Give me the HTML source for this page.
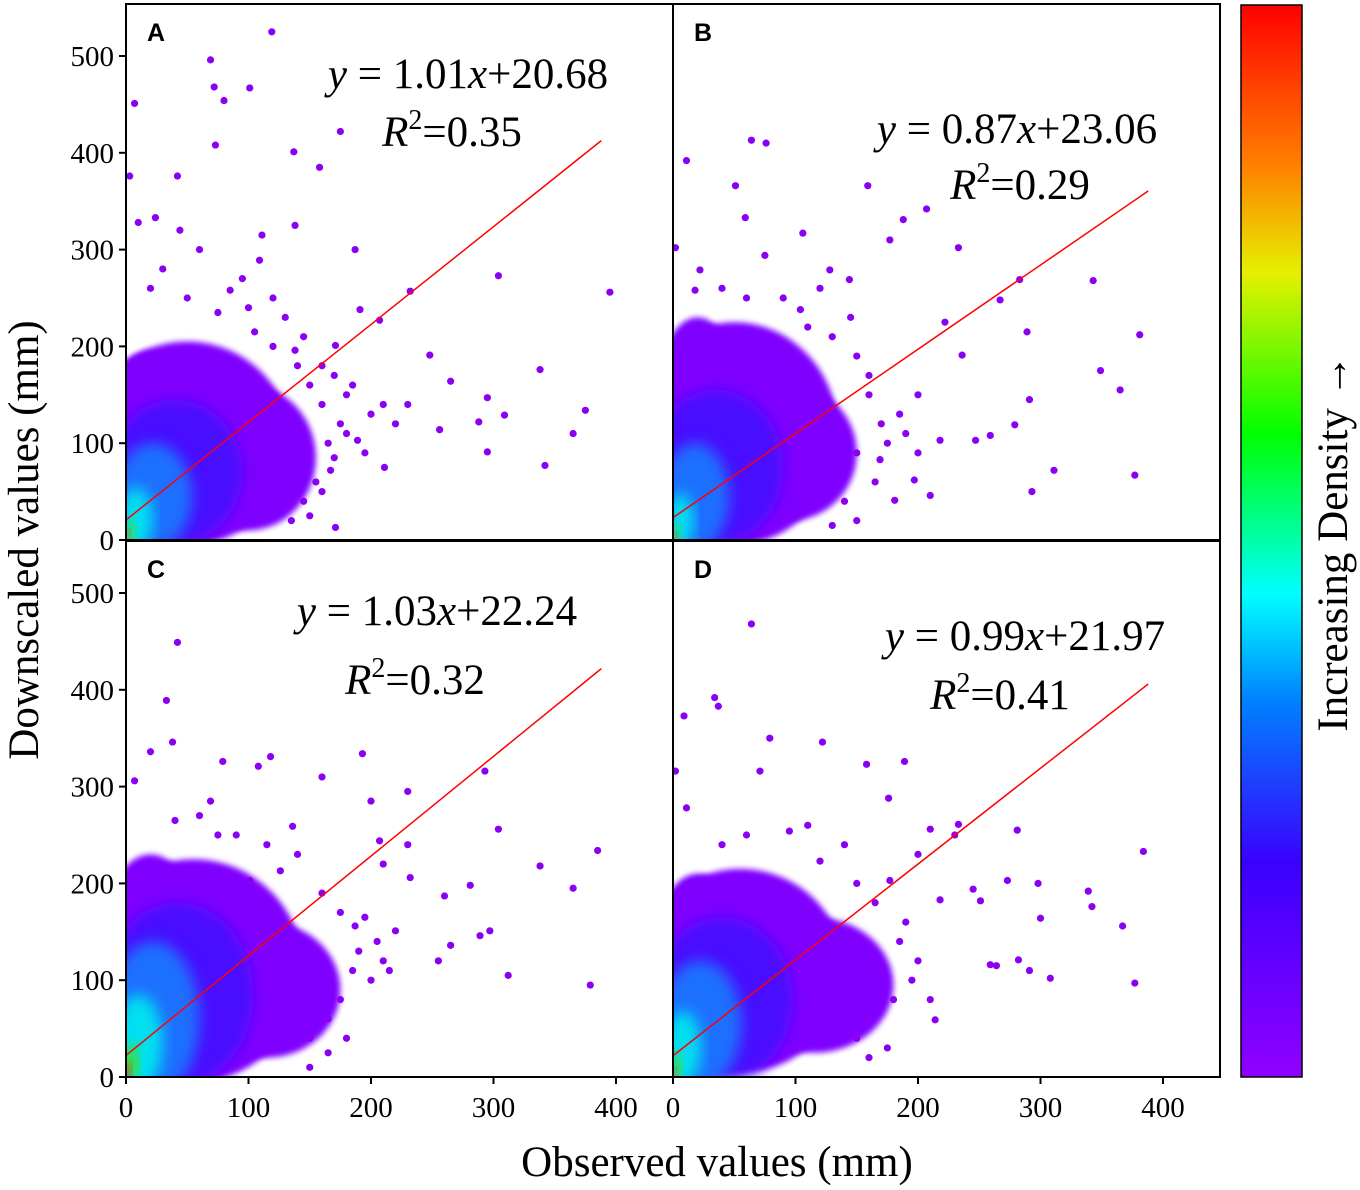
<!DOCTYPE html>
<html><head><meta charset="utf-8"><style>
body{margin:0;background:#fff;}
svg{display:block;font-family:"Liberation Serif",serif;}
</style></head><body>
<svg id="chart" width="1360" height="1190" viewBox="0 0 1360 1190" xmlns="http://www.w3.org/2000/svg">
<defs>
<linearGradient id="cbar" x1="0" y1="1" x2="0" y2="0">
<stop offset="0" stop-color="#9000ff"/><stop offset="0.2" stop-color="#3a00ff"/>
<stop offset="0.35" stop-color="#0080ff"/><stop offset="0.45" stop-color="#00ffff"/>
<stop offset="0.6" stop-color="#00ff00"/><stop offset="0.75" stop-color="#e6f000"/>
<stop offset="0.85" stop-color="#ff8000"/><stop offset="1" stop-color="#ff0000"/>
</linearGradient>
<filter id="soft" x="-20%" y="-20%" width="140%" height="140%"><feGaussianBlur stdDeviation="3"/></filter>
<filter id="soft2" x="-20%" y="-20%" width="140%" height="140%"><feGaussianBlur stdDeviation="7"/></filter>
</defs>
<g id="panels"></g>
<g><text x="717" y="1176" font-size="43" text-anchor="middle">Observed values (mm)</text></g>
<g><text transform="translate(38,540) rotate(-90)" font-size="43" text-anchor="middle">Downscaled values (mm)</text></g>
<g>
<rect x="1241" y="5" width="61" height="1072" fill="url(#cbar)" stroke="#000" stroke-width="1.5"/>
<text transform="translate(1347,543) rotate(-90)" font-size="43" text-anchor="middle">Increasing Density →</text>
</g>
</svg>
<script>
const xTicks=[0,100,200,300,400];
const yTicks=[0,100,200,300,400,500];
const panelNames=["A","B","C","D"];
const slopes=[1.01,0.87,1.03,0.99];
const intercepts=[20.68,23.06,22.24,21.97];
const r2=["0.35","0.29","0.32","0.41"];
const outA=[[119,525],[69,496],[72,468],[80,454],[101,467],[7,451],[73,408],[137,401],[42,376],[3,376],[175,422],[158,385],[395,256],[304,273],[232,257],[338,176],[248,191],[265,164],[295,147],[309,129],[295,91],[342,77],[365,110],[375,134],[288,122],[256,114],[211,75],[189,103],[167,72],[171,13],[207,227],[111,315],[109,289],[85,258],[138,325],[44,320],[24,333],[10,328],[187,300],[191,238],[171,201],[138,196],[150,160],[160,140],[175,120],[180,150],[200,130],[195,90],[155,60],[165,100],[145,40],[120,250],[95,270],[60,300],[30,280],[130,230],[100,240],[75,235],[50,250],[20,260],[145,210],[160,180],[170,170],[185,160],[180,110],[170,85],[160,50],[150,25],[135,20],[140,180],[120,200],[105,215],[210,140],[220,120],[230,140]];
const outB=[[64,413],[76,410],[11,392],[51,366],[159,366],[207,342],[177,310],[2,302],[59,333],[106,317],[188,331],[343,268],[283,269],[381,212],[289,215],[222,225],[236,191],[365,155],[349,175],[279,119],[291,145],[311,72],[293,50],[377,67],[247,103],[259,108],[218,103],[197,62],[169,83],[181,41],[210,46],[128,279],[144,269],[75,294],[104,238],[22,279],[18,258],[233,302],[267,248],[160,150],[170,120],[185,130],[150,90],[165,60],[140,40],[120,260],[130,210],[110,220],[90,250],[40,260],[150,190],[160,170],[175,100],[190,110],[200,90],[150,20],[130,15],[145,230],[60,250],[200,150]];
const outC=[[42,449],[33,389],[38,346],[7,306],[79,326],[69,285],[108,321],[160,310],[136,259],[193,334],[200,285],[230,295],[293,316],[304,256],[281,198],[297,151],[312,105],[338,218],[385,234],[365,195],[379,95],[289,146],[260,187],[232,206],[255,120],[265,136],[220,151],[187,156],[207,244],[126,213],[101,203],[118,331],[20,336],[185,110],[200,100],[175,80],[165,60],[190,130],[210,120],[150,40],[90,250],[60,270],[140,230],[115,240],[75,250],[40,265],[160,190],[175,170],[195,165],[205,140],[215,110],[180,40],[165,25],[150,10],[230,240],[210,220]];
const outD=[[64,468],[34,392],[37,383],[9,373],[2,316],[11,278],[79,350],[122,346],[71,316],[158,323],[189,326],[176,288],[210,256],[233,261],[281,255],[245,194],[251,182],[298,200],[339,192],[342,176],[367,156],[384,233],[377,97],[291,110],[308,102],[282,121],[273,203],[259,116],[264,115],[214,59],[300,164],[218,183],[177,203],[95,254],[120,223],[170,110],[185,140],[195,100],[160,60],[150,40],[180,80],[140,240],[110,260],[60,250],[40,240],[150,200],[165,180],[190,160],[200,120],[210,80],[175,30],[160,20],[230,250],[200,230]];
const outliers=[outA,outB,outC,outD];
// cloud layers: [cx, cy, rx, ry] in data units; first three purple, then inner density
const cloudA=[[50,100,85,105],[100,85,55,75],[20,120,40,75],[40,70,55,75],[22,45,32,55],[8,22,14,32],[2,8,5,12],[0,3,3,6]];
const cloudB=[[50,110,85,115],[95,90,55,70],[20,140,35,90],[35,75,55,80],[18,45,28,55],[6,20,11,28],[2,6,4,10],[0,2,3,5]];
const cloudC=[[55,110,90,115],[115,90,60,70],[20,140,40,90],[42,85,62,95],[22,60,38,80],[10,35,20,50],[3,14,7,20],[0,5,4,9]];
const cloudD=[[55,110,85,105],[115,95,65,70],[20,130,35,80],[40,80,58,85],[22,55,34,65],[8,30,15,38],[2,10,5,14],[0,3,3,6]];
const clouds=[cloudA,cloudB,cloudC,cloudD];
const cloudColors=["#7f00ff","#7f00ff","#7f00ff","#4a10ff","#1a70ff","#00e0f0","#40e020","#ff2000"];

const NS="http://www.w3.org/2000/svg";
const boxes=[[126,4,673,540],[673,4,1220,540],[126,541,673,1077],[673,541,1220,1077]];
const root=document.getElementById('panels');
function mk(tag,attrs,parent){const e=document.createElementNS(NS,tag);for(const k in attrs)e.setAttribute(k,attrs[k]);parent.appendChild(e);return e;}
boxes.forEach((b,i)=>{
  const [x0,y0,x1,y1]=b;
  const sx=1.225, sy=(y1-y0<537?0.968:0.972);
  const X=v=>x0+v*sx, Y=v=>y1-v*sy;
  const g=mk('g',{},root);
  
  
  const cp=mk('clipPath',{id:'clip'+i},g);
  mk('rect',{x:x0,y:y0,width:x1-x0,height:y1-y0},cp);
  const inner=mk('g',{'clip-path':'url(#clip'+i+')'},g);
  const cg=mk('g',{},inner);
  
  
  clouds[i].forEach((c,k)=>{
    const e=mk('ellipse',{cx:X(c[0]),cy:Y(c[1]),rx:c[2]*sx,ry:c[3]*sy,fill:cloudColors[k],filter:k<3?'url(#soft)':'url(#soft2)'},cg);
    
    
  });
  outliers[i].forEach(p=>{
    const c=mk('circle',{cx:X(p[0]),cy:Y(p[1]),r:3.6,fill:'#8a00f5'},inner);
    
    
  });
  const ln=mk('line',{x1:X(0),y1:Y(intercepts[i]),x2:X(388),y2:Y(slopes[i]*388+intercepts[i]),stroke:'#ff0000','stroke-width':1.5},inner);
  
  
  mk('rect',{x:x0,y:y0,width:x1-x0,height:y1-y0,fill:'none',stroke:'#000','stroke-width':2},g);
  const lt=mk('text',{x:x0+21,y:y0+37,'font-size':25,'font-weight':'bold','font-family':'Liberation Sans, sans-serif'},g);
  lt.textContent=panelNames[i];
  
  
  const eqPos=[[468,88,452,146],[1017,143,1020,199],[437,625,415,694],[1025,650,1000,709]][i];
  const eq=mk('text',{x:eqPos[0],y:eqPos[1],'font-size':43,'text-anchor':'middle'},g);
  eq.innerHTML='<tspan font-style="italic">y</tspan> = '+slopes[i].toFixed(2)+'<tspan font-style="italic">x</tspan>+'+intercepts[i].toFixed(2);
  
  
  const rt=mk('text',{x:eqPos[2],y:eqPos[3],'font-size':43,'text-anchor':'middle'},g);
  rt.innerHTML='<tspan font-style="italic">R</tspan><tspan dy="-17" font-size="28">2</tspan><tspan dy="17">='+r2[i]+'</tspan>';
  
  
  if(i%2===0){
    yTicks.forEach(t=>{
      mk('line',{x1:x0-7,x2:x0,y1:Y(t),y2:Y(t),stroke:'#000','stroke-width':2},g);
      const tx=mk('text',{x:x0-12,y:Y(t)+10,'font-size':29,'text-anchor':'end'},g);
      tx.textContent=t;
      
      
    });
  }
  if(i>=2){
    xTicks.forEach(t=>{
      mk('line',{x1:X(t),x2:X(t),y1:y1,y2:y1+7,stroke:'#000','stroke-width':2},g);
      const tx=mk('text',{x:X(t),y:y1+40,'font-size':29,'text-anchor':'middle'},g);
      tx.textContent=t;
      
      
    });
  }
});
</script>
</body></html>
